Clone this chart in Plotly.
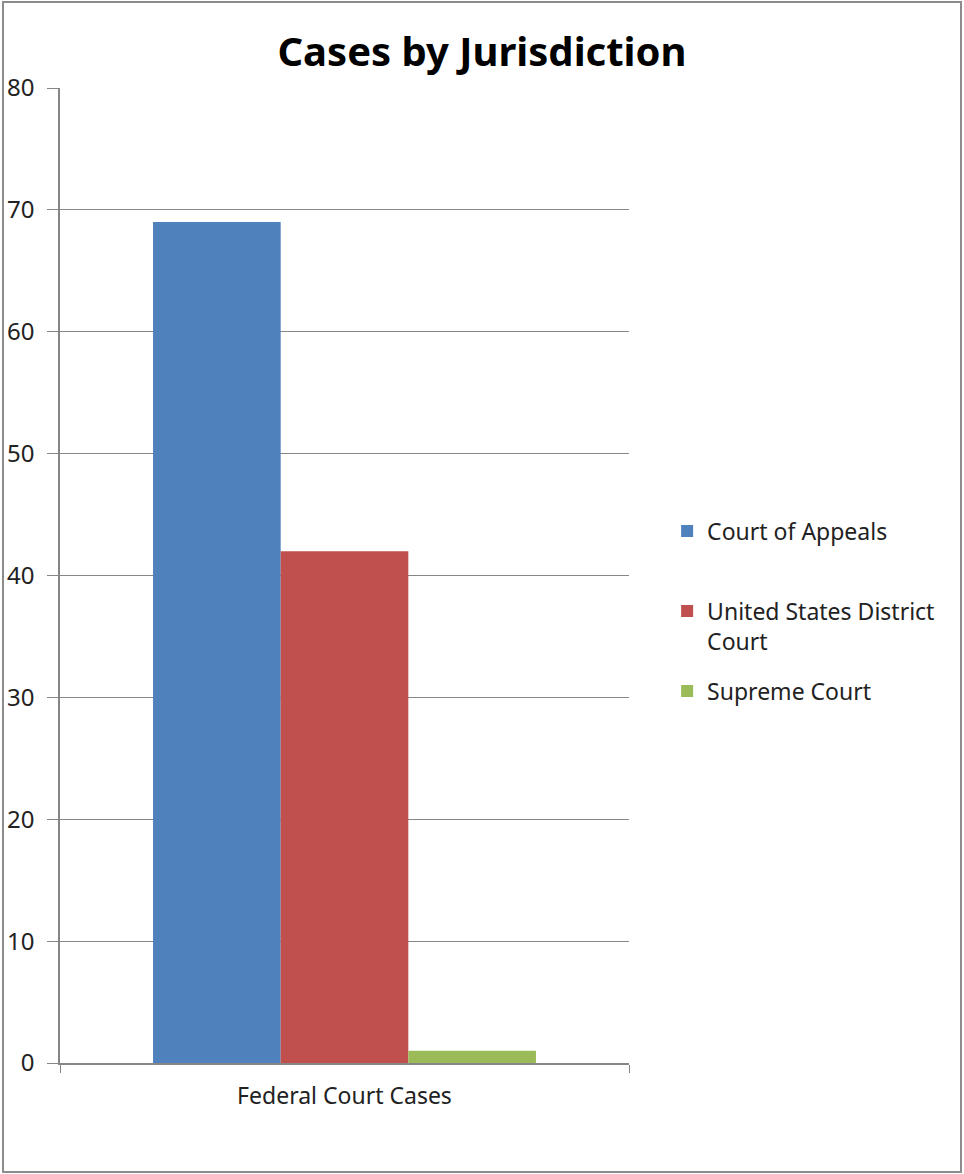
import plotly.graph_objects as go

categories = ["Federal Court Cases"]
series_names = ["Court of Appeals", "United States District<br>Court", "Supreme Court"]
series_values = [[69], [42], [1]]
series_colors = ["#4F81BD", "#C0504D", "#9BBB59"]
y_ticks = [0, 10, 20, 30, 40, 50, 60, 70, 80]

FONT = "Noto Sans"
PLOT_TOP, PLOT_BOTTOM = 88, 1063
legend_centers_px = [531, 626, 691]

fig = go.Figure()
legend_names = ["legend", "legend2", "legend3"]
for i, (name, vals, col) in enumerate(zip(series_names, series_values, series_colors)):
    fig.add_trace(go.Bar(x=categories, y=vals, name=name, marker_color=col,
                         marker_line_width=0, legend=legend_names[i]))

legend_common = dict(x=1.067, xanchor="left", yanchor="middle",
                     font=dict(size=23, color="#222222", family=FONT),
                     valign="top", bgcolor="rgba(0,0,0,0)")
legends = {}
for ln, cy in zip(legend_names, legend_centers_px):
    legends[ln] = dict(legend_common, y=(PLOT_BOTTOM - cy) / (PLOT_BOTTOM - PLOT_TOP))

fig.update_layout(
    width=964, height=1174,
    margin=dict(l=60, r=335, t=PLOT_TOP, b=1174 - PLOT_BOTTOM, autoexpand=False),
    paper_bgcolor="white", plot_bgcolor="white",
    barmode="group", bargap=0.327, bargroupgap=0,
    font=dict(family=FONT, color="#222222"),
    title=dict(text="<b>Cases by Jurisdiction</b>", x=0.5, xref="container", xanchor="center",
               y=1 - 52 / 1174, yanchor="middle", font=dict(size=40, color="black", family=FONT)),
    showlegend=True,
    xaxis=dict(showline=True, linecolor="#868686", linewidth=1.5, ticks="outside", ticklen=8,
               tickcolor="#868686", tickson="boundaries", tickfont=dict(size=23),
               ticklabelstandoff=12, automargin=False, fixedrange=True),
    yaxis=dict(range=[0, 80], tickvals=y_ticks, showgrid=True, gridcolor="#868686", gridwidth=1,
               showline=True, linecolor="#868686", linewidth=1.5, ticks="outside", ticklen=11,
               tickcolor="#868686", tickfont=dict(size=24), ticklabelstandoff=8, zeroline=False,
               automargin=False),
    **legends,
)
fig.add_shape(type="rect", xref="paper", yref="paper",
              x0=(3 - 60) / 569, x1=(961 - 60) / 569,
              y0=(1063 - 1172) / 975, y1=(1063 - 2) / 975,
              line=dict(color="#8C8C8C", width=2), fillcolor="rgba(0,0,0,0)", layer="below")
fig.write_html("out.html")
